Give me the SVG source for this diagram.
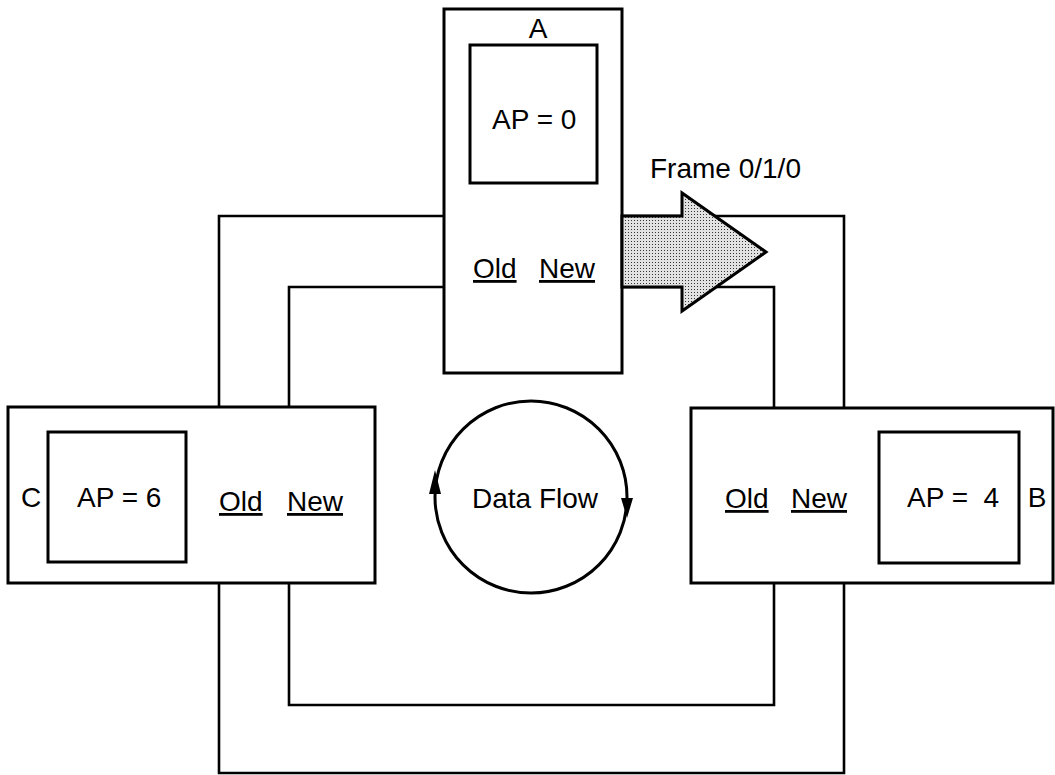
<svg xmlns="http://www.w3.org/2000/svg" width="1055" height="775" viewBox="0 0 1055 775">
<style>
.box{fill:#fff;stroke:#000;stroke-width:3}
.loop{fill:none;stroke:#000;stroke-width:2.6}
.t{font-family:"Liberation Sans",Arial,sans-serif;font-size:28px;fill:#000}
.u{text-decoration:underline}
.mid{text-anchor:middle}
</style>
<defs>
<pattern id="stipple" width="3" height="3" patternUnits="userSpaceOnUse">
<rect width="3" height="3" fill="#e2e2e2"/>
<rect x="1" y="1" width="1" height="1" fill="#333"/>
</pattern>
</defs>
<rect width="1055" height="775" fill="#fff"/>
<g id="connectors">
<path class="loop" d="M444,216 H219 V773 H844 V216 H622"/>
<path class="loop" d="M444,287 H289 V705 H774 V287 H622"/>
</g>
<g id="nodeA">
<rect class="box" x="444" y="9" width="178" height="364"/>
<rect class="box" x="470" y="45" width="127" height="138"/>
<text class="t mid" x="538" y="38">A</text>
<text class="t" x="492" y="129">AP = 0</text>
<text class="t u" x="473" y="278">Old</text>
<text class="t u" x="539" y="278">New</text>
</g>
<g id="frameArrow">
<polygon points="622,216 682,216 682,193 766,252 682,311 682,287 622,287" fill="url(#stipple)" stroke="#000" stroke-width="3" stroke-linejoin="miter"/>
<text class="t" x="650" y="178">Frame 0/1/0</text>
</g>
<g id="nodeC">
<rect class="box" x="8" y="407" width="367" height="176"/>
<rect class="box" x="48" y="432" width="138" height="130"/>
<text class="t mid" x="31" y="507">C</text>
<text class="t" x="77" y="507">AP = 6</text>
<text class="t u" x="219" y="511">Old</text>
<text class="t u" x="287" y="511">New</text>
</g>
<g id="nodeB">
<rect class="box" x="691" y="408" width="362" height="175"/>
<rect class="box" x="879" y="432" width="140" height="131"/>
<text class="t" x="907" y="507" xml:space="preserve">AP =  4</text>
<text class="t mid" x="1037" y="507">B</text>
<text class="t u" x="725" y="508">Old</text>
<text class="t u" x="791" y="508">New</text>
</g>
<g id="dataFlow">
<circle cx="531" cy="497" r="96" fill="none" stroke="#000" stroke-width="3"/>
<polygon points="435,470 429,494 441,494" fill="#000"/>
<polygon points="627,518 621,498 633,498" fill="#000"/>
<text class="t" x="472" y="508">Data Flow</text>
</g>
</svg>
